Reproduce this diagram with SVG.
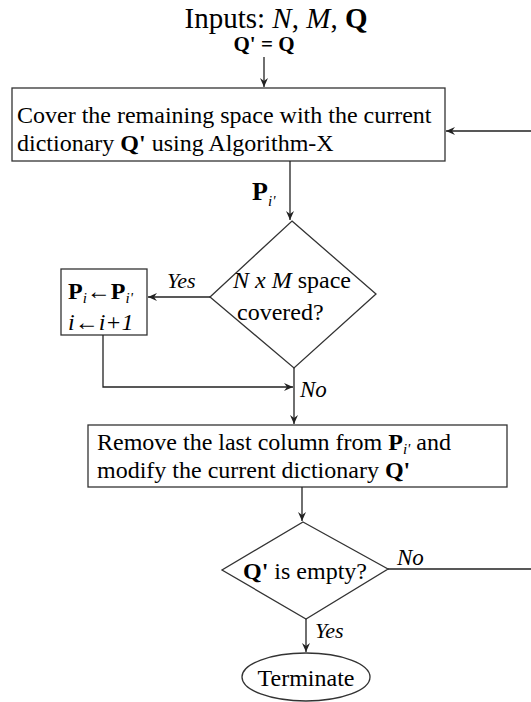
<svg xmlns="http://www.w3.org/2000/svg" width="531" height="702" viewBox="0 0 531 702">
<defs>
<style>
text{fill:#000}
.t{font-size:24px}
.b{font-weight:bold}
.i{font-style:italic}
.shape{fill:#fff;stroke:#333;stroke-width:1.3}
.ln{fill:none;stroke:#222;stroke-width:1.3}
</style>
<marker id="ah" markerWidth="10" markerHeight="8" refX="9" refY="4" orient="auto" markerUnits="userSpaceOnUse">
<path d="M0,0 L9,4 L0,8 L3,4 Z" fill="#222"/>
</marker>
</defs>
<rect width="531" height="702" fill="#fff"/>
<g font-family="Liberation Serif, Tinos, Times New Roman, Times, DejaVu Serif, serif">
<g id="start">
<text x="276" y="28" font-size="29" text-anchor="middle">Inputs: <tspan class="i">N</tspan>, <tspan class="i">M</tspan>, <tspan class="b">Q</tspan></text>
<text x="264" y="51" font-size="21" text-anchor="middle" class="b">Q' = Q</text>
</g>
<g id="cover">
<rect class="shape" x="12" y="88" width="433" height="73"/>
<text class="t" x="17" y="123">Cover the remaining space with the current</text>
<text class="t" x="17" y="151">dictionary <tspan class="b">Q'</tspan> using Algorithm-X</text>
</g>
<g id="covered">
<polygon class="shape" points="292,221 376,294 294,368 210,297"/>
<text class="t" x="233" y="288"><tspan class="i">N x M</tspan> space</text>
<text class="t" x="237" y="320">covered?</text>
</g>
<g id="update">
<rect class="shape" x="61" y="269" width="86" height="66"/>
<text class="t" x="68" y="299"><tspan class="b">P</tspan><tspan class="i" font-size="15" dy="4">i</tspan><tspan dy="-4">←</tspan><tspan class="b">P</tspan><tspan class="i" font-size="15" dy="4">i'</tspan></text>
<text class="t i" x="68" y="330">i←i+1</text>
</g>
<g id="remove">
<rect class="shape" x="88" y="425" width="419" height="62"/>
<text class="t" x="97" y="450">Remove the last column from <tspan class="b">P</tspan><tspan class="i" font-size="15" dy="4">i'</tspan><tspan dy="-4"> and</tspan></text>
<text class="t" x="97" y="478">modify the current dictionary <tspan class="b">Q'</tspan></text>
</g>
<g id="empty">
<polygon class="shape" points="303,522 388,569 306,619 222,570"/>
<text class="t" x="243" y="579"><tspan class="b">Q'</tspan> is empty?</text>
</g>
<g id="terminate">
<ellipse class="shape" cx="306" cy="677" rx="64" ry="24"/>
<text class="t" x="306" y="686" text-anchor="middle">Terminate</text>
</g>
<g id="connectors">
<path class="ln" d="M264,57 V87" marker-end="url(#ah)"/>
<path class="ln" d="M290,161 V220" marker-end="url(#ah)"/>
<path class="ln" d="M210,297 H148" marker-end="url(#ah)"/>
<path class="ln" d="M103,335 V387 H293" marker-end="url(#ah)"/>
<path class="ln" d="M294,368 V424" marker-end="url(#ah)"/>
<path class="ln" d="M302,487 V521" marker-end="url(#ah)"/>
<path class="ln" d="M306,619 V652" marker-end="url(#ah)"/>
<path class="ln" d="M388,569 H534 V131 H446" marker-end="url(#ah)"/>
<text x="252" y="200" font-size="26" class="b">P</text>
<text x="268" y="206" font-size="15" class="i">i'</text>
<text x="167" y="288" font-size="22" class="i">Yes</text>
<text x="300" y="397" font-size="23" class="i">No</text>
<text x="397" y="565" font-size="23" class="i">No</text>
<text x="315" y="638" font-size="22" class="i">Yes</text>
</g>
</g>
</svg>
